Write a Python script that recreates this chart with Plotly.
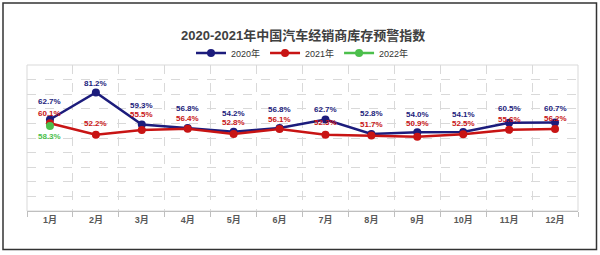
import plotly.graph_objects as go

months = ["1月", "2月", "3月", "4月", "5月", "6月", "7月", "8月", "9月", "10月", "11月", "12月"]
idx_2020 = [62.7, 81.2, 59.3, 56.8, 54.2, 56.8, 62.7, 52.8, 54.0, 54.1, 60.5, 60.7]
idx_2021 = [60.1, 52.2, 55.5, 56.4, 52.8, 56.1, 52.3, 51.7, 50.9, 52.5, 55.6, 56.2]
months_2022 = ["1月"]
idx_2022 = [58.3]

title_text = "2020-2021年中国汽车经销商库存预警指数"

# label offsets (pixels) - style only
off_2020 = [18, 9, 19, 20, 18, 19, 10, 20, 18, 18, 14, 14]
off_2021 = [10, 11, 15, 10, 11, 10, 12, 11, 13, 11, 10, 10]

C20 = "#1c1c7c"
C21 = "#c81414"
C22 = "#4cbf4c"
FONT = "Liberation Sans, Noto Sans CJK SC, sans-serif"

ML, MR, MT, MB = 27, 22, 65, 44
W, H = 600, 255
PW, PH = W - ML - MR, H - MT - MB

fig = go.Figure()
for name, xs, ys, col in [("2020年", months, idx_2020, C20),
                          ("2021年", months, idx_2021, C21),
                          ("2022年", months_2022, idx_2022, C22)]:
    fig.add_trace(go.Scatter(x=xs, y=ys, name=name, mode="lines+markers",
                             line=dict(color=col, width=2.5),
                             marker=dict(color=col, size=8),
                             hoverinfo="skip"))

ann = []
for xs, ys, offs, col in [(months, idx_2020, off_2020, C20),
                          (months, idx_2021, off_2021, C21),
                          (months_2022, idx_2022, [-11], C22)]:
    for x, y, o in zip(xs, ys, offs):
        ann.append(dict(x=x, y=y, xref="x", yref="y", text=f"<b>{y:.1f}%</b>",
                        showarrow=False, yshift=o,
                        font=dict(size=8, color=col, family=FONT)))
ann.append(dict(x=0.5, y=(H - MB - 35) / PH, xref="paper", yref="paper",
                xanchor="center", yanchor="middle",
                text=f"<b>{title_text}</b>", showarrow=False,
                font=dict(size=13, color="#404040", family=FONT)))

px = lambda v: (v - ML) / PW
py = lambda v: (H - MB - v) / PH
shapes = [
    dict(type="rect", xref="paper", yref="paper", x0=0, x1=1, y0=0, y1=1,
         line=dict(color="#d9d9d9", width=1), layer="below"),
    dict(type="rect", xref="paper", yref="paper", x0=px(3), x1=px(596.5),
         y0=py(249.5), y1=py(3), line=dict(color="#333333", width=1.5)),
]

fig.update_layout(
    width=W, height=H, margin=dict(l=ML, r=MR, t=MT, b=MB),
    paper_bgcolor="white", plot_bgcolor="white",
    font=dict(family=FONT, color="#595959"),
    showlegend=True,
    legend=dict(orientation="h", x=0.5, xanchor="center", y=py(53), yanchor="middle",
                font=dict(size=9, color="#333333", family=FONT),
                itemwidth=30, bgcolor="rgba(0,0,0,0)", tracegroupgap=0),
    annotations=ann, shapes=shapes,
    xaxis=dict(type="category", categoryorder="array", categoryarray=months,
               range=[-0.5, 11.5], tickson="boundaries", showgrid=True,
               gridcolor="#d9d9d9", griddash="dash", gridwidth=1,
               showline=True, linecolor="#bfbfbf", linewidth=1,
               ticks="outside", ticklen=5, tickcolor="#bfbfbf",
               tickfont=dict(size=9, color="#595959", family=FONT),
               fixedrange=True),
    yaxis=dict(range=[0, 100], dtick=10, showticklabels=False, showgrid=True,
               gridcolor="#d9d9d9", griddash="dash", gridwidth=1,
               zeroline=False, showline=False, fixedrange=True),
)
fig.for_each_xaxis(lambda a: a.update(ticktext=[f"<b>{m}</b>" for m in months], tickvals=months))

fig.write_html("out.html")
